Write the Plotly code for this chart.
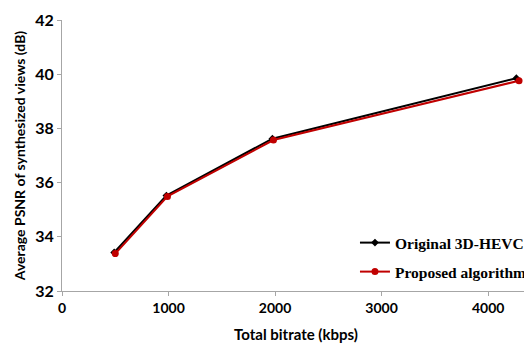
import plotly.graph_objects as go

bitrate_orig = [490, 980, 1975, 4265]
psnr_orig = [33.42, 35.52, 37.62, 39.85]
bitrate_prop = [500, 990, 1985, 4290]
psnr_prop = [33.38, 35.49, 37.57, 39.76]
x_ticks = [0, 1000, 2000, 3000, 4000]
y_ticks = [32, 34, 36, 38, 40, 42]

fig = go.Figure()
fig.add_trace(go.Scatter(x=bitrate_orig, y=psnr_orig, mode="lines+markers",
                         name="Original 3D-HEVC", legend="legend", showlegend=True,
                         line=dict(color="black", width=2),
                         marker=dict(symbol="diamond", size=6, color="black")))
fig.add_trace(go.Scatter(x=bitrate_prop, y=psnr_prop, mode="lines+markers",
                         name="Proposed algorithm", legend="legend2", showlegend=True,
                         line=dict(color="#c00000", width=2),
                         marker=dict(symbol="circle", size=7, color="#c00000")))

legfont = dict(family="Liberation Serif", size=15.5, color="black", weight="bold")
fig.update_layout(
    width=524, height=338,
    margin=dict(l=54, r=0, t=12, b=55),
    showlegend=True,
    plot_bgcolor="white", paper_bgcolor="white",
    font=dict(family="Lato", color="black"),
    legend=dict(x=0.626, y=0.177, xanchor="left", yanchor="middle",
                font=legfont, bgcolor="rgba(0,0,0,0)", itemwidth=30),
    legend2=dict(x=0.626, y=0.070, xanchor="left", yanchor="middle",
                 font=legfont, bgcolor="rgba(0,0,0,0)", itemwidth=30),
    xaxis=dict(range=[0, 4393], tickvals=x_ticks, showgrid=False,
               showline=True, linecolor="#a6a6a6", linewidth=1,
               ticks="outside", ticklen=4, tickcolor="#a6a6a6",
               tickfont=dict(size=14, family="Lato", weight="bold"),
               zeroline=False,
               title=dict(text="Total bitrate (kbps)", standoff=14,
                          font=dict(size=15, family="Lato", weight="bold"))),
    yaxis=dict(range=[32, 42], tickvals=y_ticks, showgrid=False,
               showline=True, linecolor="#a6a6a6", linewidth=1,
               ticks="outside", ticklen=4, tickcolor="#a6a6a6",
               tickfont=dict(size=16, family="Lato", weight="bold"),
               zeroline=False,
               title=dict(text="Average PSNR of synthesized views (dB)", standoff=6,
                          font=dict(size=14, family="Lato", weight="bold"))),
)
fig.write_html("out.html")
